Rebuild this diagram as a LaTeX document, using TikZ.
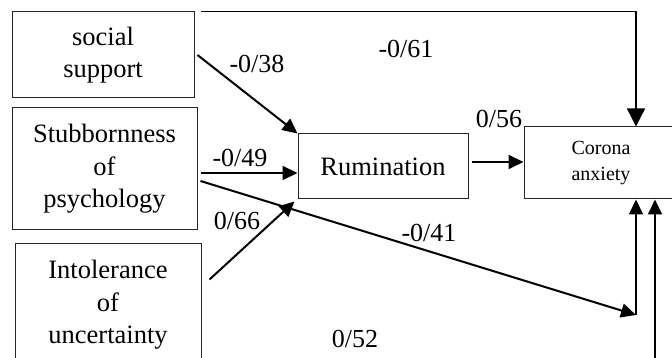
\documentclass[tikz,border=0pt]{standalone}
\usepackage{fontspec}
\setmainfont{Liberation Serif}
\usetikzlibrary{arrows.meta, positioning, calc}
\newcommand\boxfont{\fontsize{26.5}{32.5}\selectfont}
\newcommand\coeffont{\fontsize{26}{30}\selectfont}
\newcommand\outfont{\fontsize{20}{26}\selectfont}
\tikzset{
  factor/.style={draw=black!85, line width=1pt, align=center, inner sep=0pt, font=\boxfont},
  link/.style={-{Triangle[length=15pt,width=14pt]}, line width=2pt},
  coef/.style={font=\coeffont, inner sep=0pt},
}

\begin{document}
\begin{tikzpicture}[x=1pt, y=1pt]
  \useasboundingbox (0,0) rectangle (672,358);
  \clip (0,0) rectangle (672,358);
  % Predictors
  \node[factor, minimum width=182pt, minimum height=86pt] (social) at (103,303) {social\\support};
  \node[factor, minimum width=185pt, minimum height=122pt] (stub) at (104.5,189) {Stubbornness\\of\\psychology};
  \node[factor, minimum width=186pt, minimum height=122pt] (intol) at (108,53) {Intolerance\\of\\uncertainty};
  % Mediator and outcome
  \node[factor, minimum width=170pt, minimum height=65pt] (rum) at (383,191.5) {Rumination};
  \node[factor, font=\outfont, minimum width=154pt, minimum height=72pt] (corona) at (601,195) {Corona\\anxiety};
  % Junction points below the outcome
  \coordinate (j1) at (636,43);
  \coordinate (j2) at (655,0);
  % Paths to rumination
  \draw[link] ([xshift=3pt]social.east) -- (rum.north west);
  \coordinate (s1) at ([shift={(3pt,-4pt)}]stub.east);
  \draw[link] (s1) -- (s1 -| rum.west);
  \draw[link] ([shift={(8pt,-36pt)}]intol.north east) -- ([shift={(-3pt,-2pt)}]rum.south west);
  % Paths to corona anxiety
  \coordinate (r1) at ([shift={(3pt,4.5pt)}]rum.east);
  \draw[link] (r1) -- (r1 -| corona.west);
  \draw[link, line width=1.3pt, -{Triangle[length=18pt,width=18pt]}] ([xshift=6pt]social.north east) -| (j1 |- corona.north);
  \draw[link] ([shift={(3pt,-12pt)}]stub.east) -- (j1);
  \draw[link] (j1) -- (j1 |- corona.south);
  \draw[link] (j2) -- (j2 |- corona.south);
  % Coefficients
  \node[coef] (c61) at (406,309) {-0/61};
  \node[coef] (c38) at (257,294) {-0/38};
  \node[coef] (c49) at (240,200) {-0/49};
  \node[coef] (c56) at (499,239) {0/56};
  \node[coef] (c66) at (237,137) {0/66};
  \node[coef] (c41) at (429,125) {-0/41};
  \node[coef] (c52) at (355,19) {0/52};
\end{tikzpicture}
\end{document}
